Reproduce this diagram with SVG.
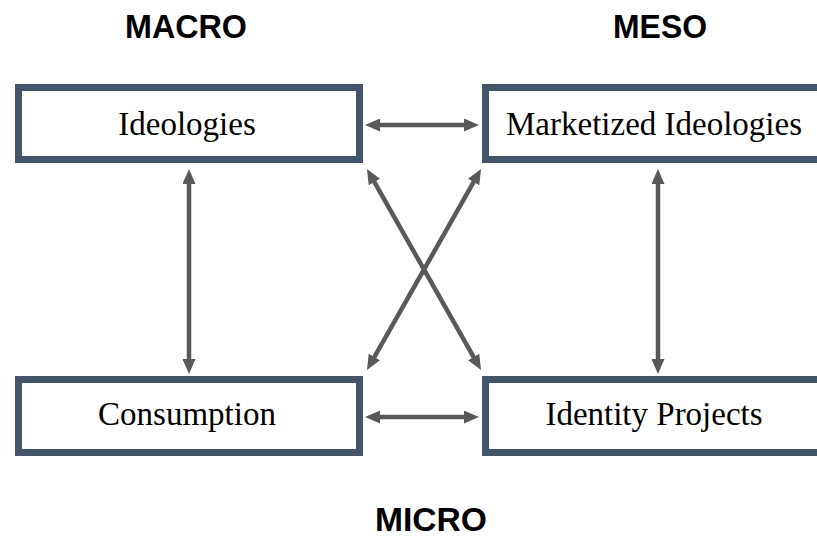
<svg xmlns="http://www.w3.org/2000/svg" width="817" height="539" viewBox="0 0 817 539">
  <style>
    .box { fill: #ffffff; stroke: #44546a; stroke-width: 7; }
    .label { font-family: "Liberation Serif", "Times New Roman", serif; font-size: 33px; fill: #000000; text-anchor: middle; }
    .level { font-family: "Liberation Sans", Arial, sans-serif; font-size: 33px; font-weight: bold; fill: #000000; text-anchor: middle; }
    .link { stroke: #595959; stroke-width: 4.5; fill: none; marker-start: url(#head); marker-end: url(#head); }
  </style>
  <defs>
    <marker id="head" markerUnits="userSpaceOnUse" viewBox="0 0 15 13" markerWidth="15" markerHeight="13" refX="5" refY="6.5" orient="auto-start-reverse">
      <path d="M0,0 L15,6.5 L0,13 Z" fill="#595959"/>
    </marker>
  </defs>

  <rect width="817" height="539" fill="#ffffff"/>

  <!-- level headings -->
  <g id="headings">
    <text class="level" x="186" y="38" textLength="122" lengthAdjust="spacingAndGlyphs">MACRO</text>
    <text class="level" x="660" y="38" textLength="94" lengthAdjust="spacingAndGlyphs">MESO</text>
    <text class="level" x="431" y="531" textLength="112" lengthAdjust="spacingAndGlyphs">MICRO</text>
  </g>

  <!-- connectors -->
  <g id="connectors">
    <line class="link" x1="375" y1="125" x2="469" y2="125"/>
    <line class="link" x1="375" y1="417" x2="469" y2="417"/>
    <line class="link" x1="189" y1="179" x2="189" y2="364"/>
    <line class="link" x1="658" y1="179" x2="658" y2="364"/>
    <line class="link" x1="371.9" y1="177.7" x2="476.1" y2="361.3"/>
    <line class="link" x1="476.1" y1="177.7" x2="371.9" y2="361.3"/>
  </g>

  <g id="ideologies">
    <rect class="box" x="18.5" y="87.5" width="341" height="72"/>
    <text class="label" x="187" y="135">Ideologies</text>
  </g>

  <g id="marketized-ideologies">
    <rect class="box" x="485.5" y="87.5" width="341" height="72"/>
    <text class="label" x="654" y="135">Marketized Ideologies</text>
  </g>

  <g id="consumption">
    <rect class="box" x="18.5" y="379.5" width="341" height="73"/>
    <text class="label" x="187" y="425">Consumption</text>
  </g>

  <g id="identity-projects">
    <rect class="box" x="485.5" y="379.5" width="341" height="73"/>
    <text class="label" x="654" y="425">Identity Projects</text>
  </g>
</svg>
